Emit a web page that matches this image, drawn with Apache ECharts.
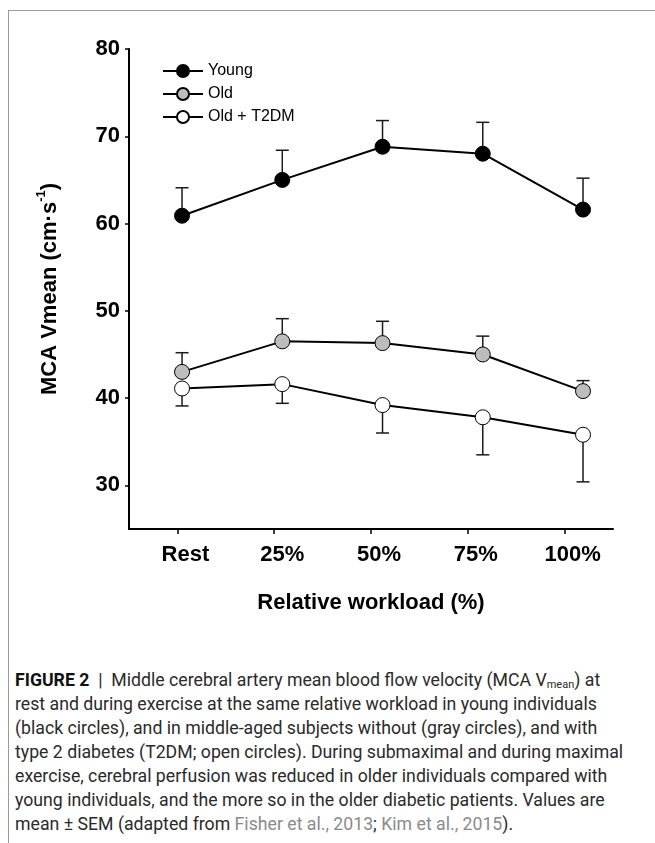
<!DOCTYPE html>
<html>
<head>
<meta charset="utf-8">
<script src="https://cdn.jsdelivr.net/npm/echarts@6/dist/echarts.min.js"></script>
<style>
  html, body { margin: 0; padding: 0; background: #fff; }
  body { width: 655px; height: 843px; position: relative; overflow: hidden; }
  #frame { position: absolute; left: 8px; top: 10px; width: 700px; height: 900px;
           border-left: 1px solid #9a9a9a; border-top: 1px solid #9a9a9a; }
  #chart { position: absolute; left: 0; top: 0; width: 655px; height: 640px; }
  #caption { position: absolute; left: 15px; top: 668px; font-family: Roboto, "Liberation Sans", sans-serif;
             font-size: 17.7px; line-height: 24px; color: #2a2a2a; white-space: nowrap; }
  #caption b { font-weight: bold; color: #111; }
  #caption .ref { color: #8a8a8a; }
  #caption sub { font-size: 11px; vertical-align: -2px; line-height: 0; }
</style>
</head>
<body>
<div id="frame"></div>
<div id="chart"></div>
<div id="caption">
<div><b>FIGURE 2</b> &nbsp;|&nbsp; Middle cerebral artery mean blood flow velocity (MCA V<sub>mean</sub>) at</div>
<div>rest and during exercise at the same relative workload in young individuals</div>
<div>(black circles), and in middle-aged subjects without (gray circles), and with</div>
<div>type 2 diabetes (T2DM; open circles). During submaximal and during maximal</div>
<div>exercise, cerebral perfusion was reduced in older individuals compared with</div>
<div>young individuals, and the more so in the older diabetic patients. Values are</div>
<div>mean ± SEM (adapted from <span class="ref">Fisher et al., 2013</span>; <span class="ref">Kim et al., 2015</span>).</div>
</div>
<script>
const categories = ['Rest', '25%', '50%', '75%', '100%'];
const youngMean = [60.9, 65.0, 68.8, 68.0, 61.6];
const youngSem  = [3.2, 3.4, 3.0, 3.6, 3.6];
const oldMean   = [43.0, 46.5, 46.3, 45.0, 40.8];
const oldSem    = [2.2, 2.6, 2.5, 2.1, 1.2];
const t2dmMean  = [41.1, 41.6, 39.2, 37.8, 35.8];
const t2dmSem   = [2.0, 2.2, 3.2, 4.3, 5.4];
const yTicks    = [30, 40, 50, 60, 70, 80];

const FONT = '"Liberation Sans", Arial, sans-serif';
const chart = echarts.init(document.getElementById('chart'));

function pts(mean) { return mean.map((v, i) => [i, v]); }
function errData(mean, sem) { return mean.map((v, i) => [i, v, sem[i]]); }
function errSeries(mean, sem, dir) {
  return {
    type: 'custom', xAxisIndex: 0, yAxisIndex: 0, z: 1, silent: true,
    data: errData(mean, sem),
    renderItem: function (params, api) {
      const x = api.value(0), m = api.value(1), e = api.value(2);
      const p0 = api.coord([x, m]);
      const p1 = api.coord([x, m + dir * e]);
      const hw = 6.5;
      const st = { stroke: '#1a1a1a', lineWidth: 1.5 };
      return { type: 'group', children: [
        { type: 'line', shape: { x1: p0[0], y1: p0[1], x2: p1[0], y2: p1[1] }, style: st },
        { type: 'line', shape: { x1: p1[0] - hw, y1: p1[1], x2: p1[0] + hw, y2: p1[1] }, style: st }
      ]};
    }
  };
}
function lineSeries(name, mean, fill) {
  return {
    name: name, type: 'line', xAxisIndex: 0, yAxisIndex: 0, z: 3,
    data: pts(mean), symbol: 'circle', symbolSize: 15,
    itemStyle: { color: fill, borderColor: '#000', borderWidth: 1 },
    lineStyle: { color: '#000', width: 2 }
  };
}

chart.setOption({
  animation: false,
  backgroundColor: 'transparent',
  grid: { left: 129, right: 42, top: 49, bottom: 111 },
  legend: {
    data: ['Young', 'Old', 'Old + T2DM'],
    orient: 'vertical', left: 157, top: 58,
    itemWidth: 40, itemHeight: 15, itemGap: 7,
    textStyle: { fontFamily: FONT, fontSize: 16, color: '#000', padding: [0, 0, 0, 0] }
  },
  xAxis: [
    { type: 'value', show: false, min: -0.529, max: 4.299 },
    {
      type: 'category', data: categories, position: 'bottom', boundaryGap: true,
      name: 'Relative workload (%)', nameLocation: 'middle', nameGap: 63,
      nameTextStyle: { fontFamily: FONT, fontSize: 22, fontWeight: 'bold', color: '#000' },
      axisLine: { show: true, onZero: false, lineStyle: { color: '#000', width: 2 } },
      axisTick: { show: true, alignWithLabel: true, length: 5, lineStyle: { color: '#000', width: 1.5 } },
      axisLabel: { fontFamily: FONT, fontSize: 22, fontWeight: 'bold', color: '#000', margin: 15, padding: [0, 0, 0, 16] },
      splitLine: { show: false }
    }
  ],
  yAxis: {
    type: 'value', min: 25, max: 80,
    name: '{t|MCA Vmean (cm·s}{s|-1}{t|)}', nameLocation: 'middle', nameRotate: 90, nameGap: 68,
    nameTextStyle: {
      rich: {
        t: { fontFamily: FONT, fontSize: 22, fontWeight: 'bold', color: '#000', lineHeight: 26, verticalAlign: 'bottom' },
        s: { fontFamily: FONT, fontSize: 13, fontWeight: 'bold', color: '#000', lineHeight: 26, verticalAlign: 'top' }
      }
    },
    axisLine: { show: true, onZero: false, lineStyle: { color: '#000', width: 2 } },
    axisTick: { show: true, length: 4, customValues: yTicks, lineStyle: { color: '#000', width: 1.5 } },
    axisLabel: { fontFamily: FONT, fontSize: 22, fontWeight: 'bold', color: '#000', margin: 9, customValues: yTicks },
    splitLine: { show: false }
  },
  series: [
    errSeries(youngMean, youngSem, 1),
    errSeries(oldMean, oldSem, 1),
    errSeries(t2dmMean, t2dmSem, -1),
    lineSeries('Young', youngMean, '#000'),
    lineSeries('Old', oldMean, '#bdbdbd'),
    lineSeries('Old + T2DM', t2dmMean, '#fff')
  ]
});
</script>
</body>
</html>
